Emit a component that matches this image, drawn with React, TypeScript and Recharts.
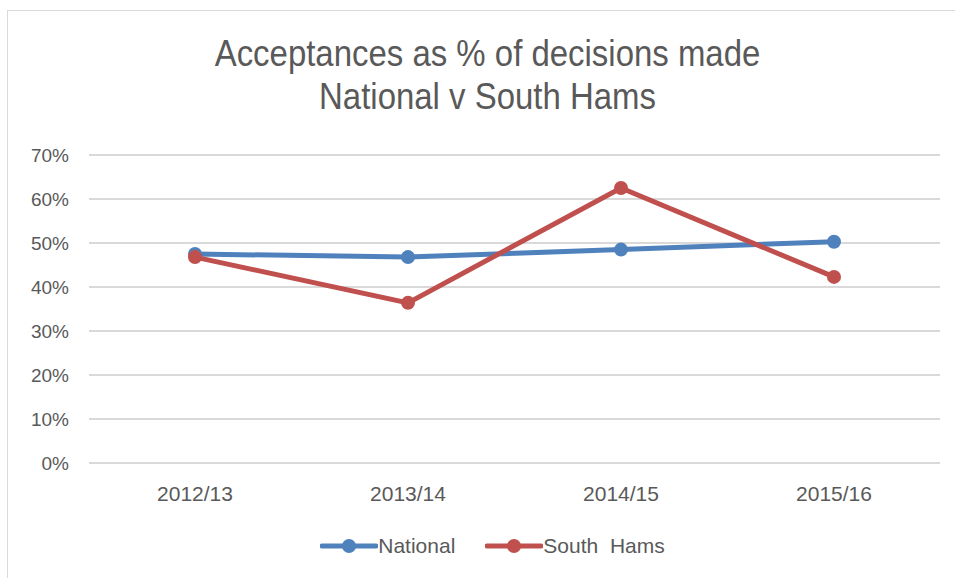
import { LineChart, Line, XAxis, YAxis, CartesianGrid, Legend } from 'recharts'

const years = ['2012/13', '2013/14', '2014/15', '2015/16']
const national = [47.5, 46.8, 48.5, 50.3]
const southHams = [46.8, 36.4, 62.5, 42.3]
const yTicks = [0, 10, 20, 30, 40, 50, 60, 70]
const titleLines = ['Acceptances as % of decisions made', 'National v South Hams']

const series = [
  { key: 'national', name: 'National', color: '#4F81BD' },
  { key: 'southHams', name: 'South  Hams', color: '#C0504D' },
]

const FONT = '"Liberation Sans", sans-serif'
const TEXT = '#595959'

const data = years.map((y, i) => ({ year: y, national: national[i], southHams: southHams[i] }))

function LegendContent() {
  return (
    <div style={{ display: 'flex', justifyContent: 'center', gap: 30, fontFamily: FONT, fontSize: 21, color: TEXT }}>
      {series.map(s => (
        <div key={s.key} style={{ display: 'flex', alignItems: 'center' }}>
          <svg width={58} height={16}>
            <line x1={2} y1={8} x2={56} y2={8} stroke={s.color} strokeWidth={5} strokeLinecap="round" />
            <circle cx={29} cy={8} r={7} fill={s.color} />
          </svg>
          <span style={{ whiteSpace: 'pre' }}>{s.name}</span>
        </div>
      ))}
    </div>
  )
}

export default function App() {
  return (
    <div style={{ position: 'absolute', left: 0, top: 0, width: 955, height: 578, background: '#fff', overflow: 'hidden' }}>
      <div style={{ position: 'absolute', left: 7, top: 10, width: 960, height: 580, border: '1px solid #D9D9D9' }} />
      {titleLines.map((t, i) => (
        <div key={t} style={{ position: 'absolute', left: 0, width: 975, top: 32 + i * 43, textAlign: 'center', fontFamily: FONT, fontSize: 36, color: TEXT, lineHeight: '44px', transform: 'scaleX(0.915)' }}>
          {t}
        </div>
      ))}
      <div style={{ position: 'absolute', left: 0, top: 0 }}>
        <LineChart width={955} height={578} data={data} margin={{ top: 155, right: 15, bottom: 85, left: 29 }}>
          <CartesianGrid vertical={false} stroke="#D9D9D9" strokeWidth={2} />
          <XAxis dataKey="year" axisLine={false} tickLine={false} height={30} tickMargin={17}
            padding={{ left: 106, right: 106 }} tick={{ fill: TEXT, fontSize: 21, fontFamily: FONT }} />
          <YAxis domain={[0, 70]} ticks={yTicks} tickFormatter={v => `${v}%`} axisLine={false} tickLine={false}
            width={60} tickMargin={14} tick={{ fill: TEXT, fontSize: 19, fontFamily: FONT }} />
          <Legend layout="horizontal" verticalAlign="middle" wrapperStyle={{ top: 534, left: 0, width: 985 }} content={<LegendContent />} />
          {series.map(s => (
            <Line key={s.key} dataKey={s.key} name={s.name} stroke={s.color} strokeWidth={5}
              dot={{ r: 7, fill: s.color, stroke: s.color, strokeWidth: 0 }} isAnimationActive={false} />
          ))}
        </LineChart>
      </div>
    </div>
  )
}
